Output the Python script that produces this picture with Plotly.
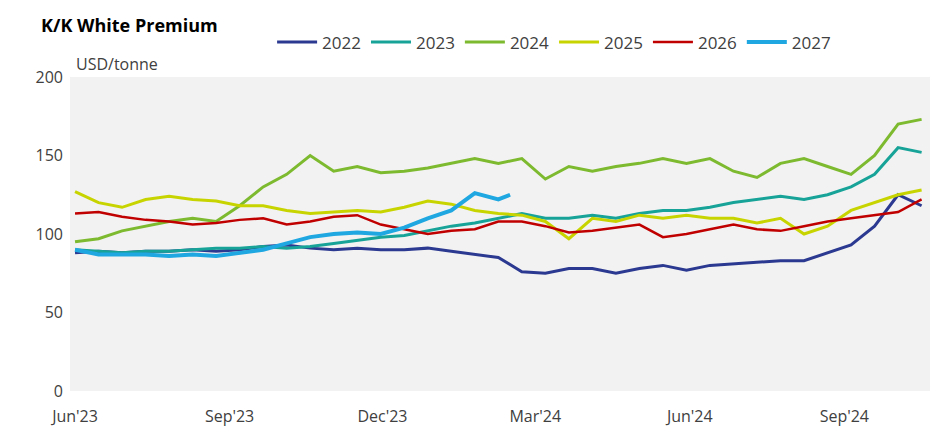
import plotly.graph_objects as go
import pandas as pd

dates = list(pd.date_range("2023-06-01", periods=37, freq="14D").strftime("%Y-%m-%d"))
dates_2027 = dates[:19] + ["2024-02-15"]

s2022 = [88,89,88,89,89,90,89,90,92,93,91,90,91,90,90,91,89,87,85,76,75,78,78,75,78,80,77,80,81,82,83,83,88,93,105,125,118]
s2023 = [90,89,88,89,89,90,91,91,92,91,92,94,96,98,99,102,105,107,110,113,110,110,112,110,113,115,115,117,120,122,124,122,125,130,138,155,152]
s2024 = [95,97,102,105,108,110,108,118,130,138,150,140,143,139,140,142,145,148,145,148,135,143,140,143,145,148,145,148,140,136,145,148,143,138,150,170,173]
s2025 = [127,120,117,122,124,122,121,118,118,115,113,114,115,114,117,121,119,115,113,112,108,97,110,108,112,110,112,110,110,107,110,100,105,115,120,125,128]
s2026 = [113,114,111,109,108,106,107,109,110,106,108,111,112,106,103,100,102,103,108,108,105,101,102,104,106,98,100,103,106,103,102,105,108,110,112,114,122]
s2027 = [90,87,87,87,86,87,86,88,90,94,98,100,101,100,104,110,115,126,122,125]

series = [("2022", dates, s2022, "#2b3990", 3),
          ("2023", dates, s2023, "#17a398", 3),
          ("2024", dates, s2024, "#7dba2f", 3),
          ("2025", dates, s2025, "#c8d400", 3),
          ("2026", dates, s2026, "#c00000", 2.5),
          ("2027", dates_2027, s2027, "#1ea7e1", 4)]

fig = go.Figure()
for name, x, y, c, w in series:
    fig.add_trace(go.Scatter(x=x, y=y, name=name, mode="lines", line=dict(color=c, width=w)))

fig.update_layout(
    width=945, height=443,
    margin=dict(l=62, r=23, t=69, b=60),
    paper_bgcolor="white", plot_bgcolor="#f2f2f2",
    font=dict(family="Open Sans", size=16, color="#404040"),
    title=dict(text="<b>K/K White Premium</b>", x=0.035, y=0.975, xanchor="left", yanchor="top",
               font=dict(size=18, color="black")),
    legend=dict(orientation="h", x=0.235, y=1.11, xanchor="left", yanchor="middle",
                font=dict(size=17, color="#404040"), itemwidth=40, bgcolor="rgba(0,0,0,0)",
                tracegroupgap=0),
    showlegend=True,
)
fig.update_xaxes(range=["2023-05-29", "2024-10-22"], showgrid=False,
                 tickvals=["2023-06-01", "2023-09-01", "2023-12-01", "2024-03-01", "2024-06-01", "2024-09-01"],
                 ticktext=["Jun'23", "Sep'23", "Dec'23", "Mar'24", "Jun'24", "Sep'24"],
                 ticks="", zeroline=False, ticklabelstandoff=14)
fig.update_yaxes(range=[0, 200], tickvals=[0, 50, 100, 150, 200], showgrid=False, zeroline=False, ticks="",
                 ticklabelstandoff=6)
fig.add_annotation(text="USD/tonne", xref="paper", yref="paper", x=0.005, y=1.0, xanchor="left",
                   yanchor="bottom", showarrow=False, font=dict(size=16, color="#404040"))
fig.write_html("out.html")
